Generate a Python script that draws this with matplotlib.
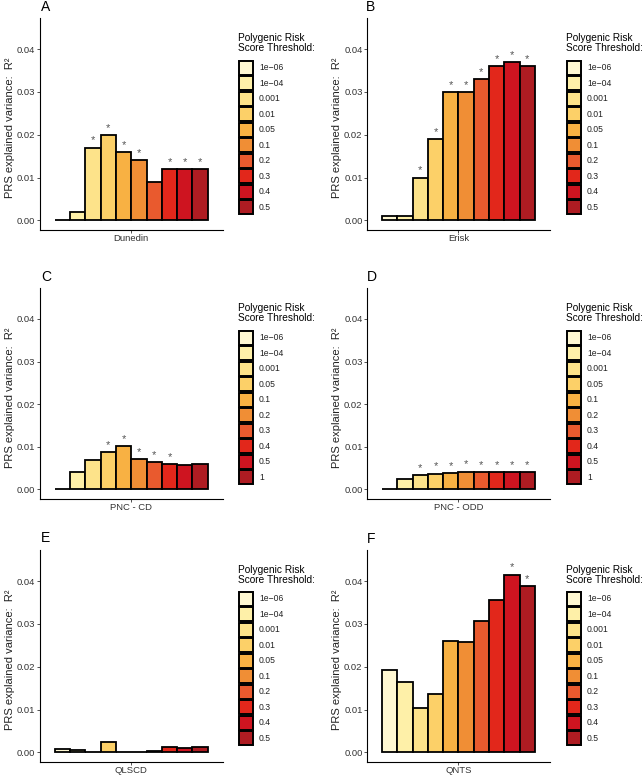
import matplotlib
matplotlib.use("Agg")
import matplotlib.pyplot as plt
from matplotlib.patches import Rectangle

plt.rcParams['font.family'] = ['Liberation Sans', 'DejaVu Sans']

W, H = 644, 776

colors = ["#FFF8D2", "#FEF0A8", "#FDE38A", "#FCD068", "#F8B143",
          "#F08E35", "#E95A2E", "#E2271B", "#CE1420", "#AE1C22"]

thr_std = ["1e\u221206", "1e\u221204", "0.001", "0.01", "0.05", "0.1", "0.2", "0.3", "0.4", "0.5"]
thr_pnc = ["1e\u221206", "1e\u221204", "0.001", "0.05", "0.1", "0.2", "0.3", "0.4", "0.5", "1"]

# Panel data
labels_panels = ["A", "B", "C", "D", "E", "F"]
cohorts = ["Dunedin", "Erisk", "PNC - CD", "PNC - ODD", "QLSCD", "QNTS"]

dunedin = [0.0000, 0.0020, 0.0170, 0.0200, 0.0160, 0.0140, 0.0090, 0.0120, 0.0120, 0.0120]
erisk   = [0.0010, 0.0010, 0.0100, 0.0190, 0.0300, 0.0300, 0.0330, 0.0360, 0.0370, 0.0360]
pnc_cd  = [0.0002, 0.0041, 0.0068, 0.0088, 0.0102, 0.0071, 0.0065, 0.0059, 0.0058, 0.0059]
pnc_odd = [0.0001, 0.0025, 0.0034, 0.0037, 0.0039, 0.0042, 0.0040, 0.0041, 0.0040, 0.0040]
qlscd   = [0.0009, 0.0005, 0.0001, 0.0024, 0.0000, 0.0002, 0.0004, 0.0012, 0.0010, 0.0013]
qnts    = [0.0192, 0.0164, 0.0104, 0.0136, 0.0261, 0.0257, 0.0306, 0.0356, 0.0415, 0.0388]

sig_dunedin = [0, 0, 1, 1, 1, 1, 0, 1, 1, 1]
sig_erisk   = [0, 0, 1, 1, 1, 1, 1, 1, 1, 1]
sig_pnc_cd  = [0, 0, 0, 1, 1, 1, 1, 1, 0, 0]
sig_pnc_odd = [0, 0, 1, 1, 1, 1, 1, 1, 1, 1]
sig_qlscd   = [0, 0, 0, 0, 0, 0, 0, 0, 0, 0]
sig_qnts    = [0, 0, 0, 0, 0, 0, 0, 0, 1, 1]

values = [dunedin, erisk, pnc_cd, pnc_odd, qlscd, qnts]
sigs = [sig_dunedin, sig_erisk, sig_pnc_cd, sig_pnc_odd, sig_qlscd, sig_qnts]
thresholds = [thr_std, thr_std, thr_pnc, thr_pnc, thr_std, thr_std]

fig = plt.figure(figsize=(W / 100, H / 100), dpi=100)

# layout in pixels (top-left origin)
col_left = [39.5, 366.7]
ax_w = 183.5
rows = [(18, 230), (288, 499), (550, 762)]
label_pos = [(41, 7), (366, 7), (41, 277), (367, 277), (41, 538), (367, 539)]
leg_x = [238, 566]
leg_title_y = [38, 308, 570]
leg_key_top = [60, 330, 591]
key_w, key_period = 15.0, 15.5


def fx(x):
    return x / W


def fy(y):
    return 1 - y / H


for i in range(6):
    r, c = divmod(i, 2)
    top, bot = rows[r]
    ax = fig.add_axes([fx(col_left[c]), fy(bot), ax_w / W, (bot - top) / H])
    vals = values[i]
    n = len(vals)
    xs = [0.5 + 0.1 * k + 0.05 for k in range(n)]
    ax.bar(xs, vals, width=0.1, color=colors, edgecolor="black", linewidth=1.3, zorder=3)
    for k in range(n):
        if sigs[i][k]:
            ax.annotate("*", (xs[k], vals[k]), xytext=(0, 1.5), textcoords="offset points",
                        ha="center", va="bottom", fontsize=8, color="#555555")
    ax.set_xlim(0.4, 1.6)
    ax.set_ylim(-0.00225, 0.04725)
    ax.set_xticks([1])
    ax.set_xticklabels([cohorts[i]])
    ax.set_yticks([0, 0.01, 0.02, 0.03, 0.04])
    ax.set_yticklabels(["0.00", "0.01", "0.02", "0.03", "0.04"])
    ax.tick_params(axis="both", labelsize=6.8, length=2, width=0.6, color="#333333",
                   labelcolor="#333333", pad=1)
    for s in ["top", "right"]:
        ax.spines[s].set_visible(False)
    for s in ["left", "bottom"]:
        ax.spines[s].set_linewidth(0.8)
    fig.text(fx(col_left[c] - 29.5), fy((top + bot) / 2 + 4), "PRS explained variance:  R\u00b2",
             rotation=90, fontsize=8, ha="center", va="center", color="#222222")

    # panel letter
    lx, ly = label_pos[i]
    fig.text(fx(lx), fy(ly), labels_panels[i], fontsize=10, ha="left", va="center")

    # legend (drawn manually, ggplot style)
    x0 = leg_x[c]
    fig.text(fx(x0), fy(leg_title_y[r] - 5), "Polygenic Risk\nScore Threshold:", fontsize=7.3,
             ha="left", va="top", linespacing=1.05)
    ktop = leg_key_top[r]
    fig.add_artist(Rectangle((fx(x0 + 0.5), fy(ktop + n * key_period)), key_w / W,
                             n * key_period / H, transform=fig.transFigure,
                             facecolor="#a0a0a0", edgecolor="none"))
    for k in range(n):
        yk = ktop + k * key_period
        fig.add_artist(Rectangle((fx(x0 + 1.2), fy(yk + key_period - 0.7)), (key_w - 1.4) / W,
                                 (key_period - 1.4) / H, transform=fig.transFigure,
                                 facecolor=colors[k], edgecolor="black", linewidth=1.4))
        fig.text(fx(x0 + 21), fy(yk + key_period / 2), thresholds[i][k], fontsize=6.2,
                 ha="left", va="center", color="#222222")

fig.savefig("out.png", dpi=100)
